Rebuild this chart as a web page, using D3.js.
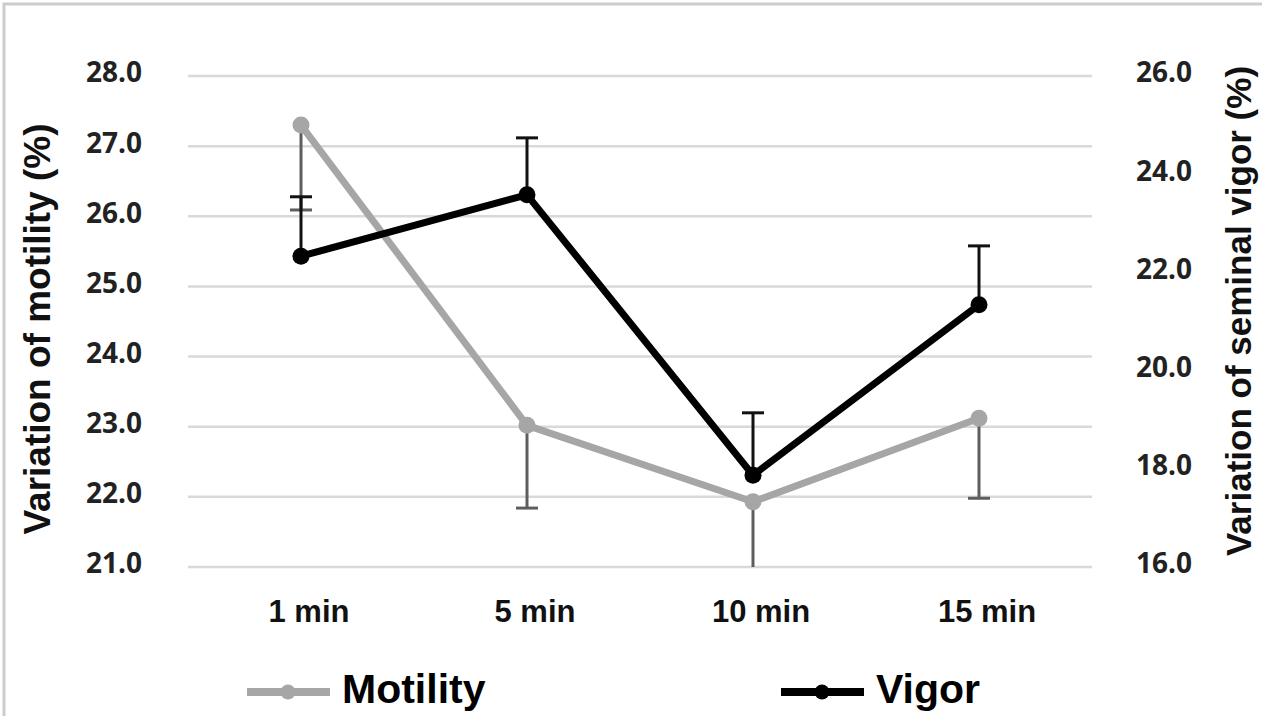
<!DOCTYPE html>
<html>
<head>
<meta charset="utf-8">
<script src="https://d3js.org/d3.v7.min.js"></script>
<style>
  body { margin: 0; background: #fff; }
  svg { display: block; }
</style>
</head>
<body>
<svg id="chart"></svg>
<script>
// data
var times = ["1 min", "5 min", "10 min", "15 min"];
var motility = [27.3, 23.02, 21.93, 23.12];
var motilityLow = [26.09, 21.84, 20.7, 21.98];   // minus error bar ends
var vigor = [22.33, 23.58, 17.87, 21.34];
var vigorHigh = [23.54, 24.74, 19.14, 22.54];    // plus error bar ends
var leftTicks = [21, 22, 23, 24, 25, 26, 27, 28];
var rightTicks = [16, 18, 20, 22, 24, 26];

var W = 1262, H = 716;
var margins = {top: 76, right: 170, bottom: 149, left: 188};
var width = W - margins.left - margins.right;
var height = H - margins.top - margins.bottom;

var svg = d3.select("#chart").attr("width", W).attr("height", H);

// outer chart border (only top/left visible in the crop)
svg.append("path")
  .attr("d", "M4," + H + " V4 H" + W)
  .attr("fill", "none")
  .attr("stroke", "#cccccc")
  .attr("stroke-width", 3);

var g = svg.append("g")
  .attr("transform", "translate(" + margins.left + "," + margins.top + ")");

var xScale = d3.scaleBand().domain(times).range([0, width]);
var yLeft = d3.scaleLinear().domain([21, 28]).range([height, 0]);
var yRight = d3.scaleLinear().domain([16, 26]).range([height, 0]);
var cx = function(d, i){ return xScale(times[i]) + xScale.bandwidth() / 2; };

// gridlines
g.selectAll(".grid").data(leftTicks).enter().append("line")
  .attr("x1", 0).attr("x2", width)
  .attr("y1", function(d){ return yLeft(d); })
  .attr("y2", function(d){ return yLeft(d); })
  .attr("stroke", "#d9d9d9").attr("stroke-width", 2.5);

var tickFont = "'Open Sans', sans-serif";
var arial = "'Liberation Sans', Arial, sans-serif";

var yAxisL = d3.axisLeft(yLeft).tickValues(leftTicks).tickSize(0).tickPadding(46)
  .tickFormat(d3.format(".1f"));
g.append("g").classed("yAxis", true).call(yAxisL)
  .call(function(s){ s.select(".domain").remove(); })
  .selectAll("text")
  .attr("y", -3)
  .attr("font-family", tickFont).attr("font-weight", "bold")
  .attr("font-size", 28).attr("fill", "#222");

var yAxisR = d3.axisRight(yRight).tickValues(rightTicks).tickSize(0).tickPadding(44)
  .tickFormat(d3.format(".1f"));
g.append("g").classed("yAxis", true)
  .attr("transform", "translate(" + width + ",0)")
  .call(yAxisR)
  .call(function(s){ s.select(".domain").remove(); })
  .selectAll("text")
  .attr("y", -3)
  .attr("font-family", tickFont).attr("font-weight", "bold")
  .attr("font-size", 28).attr("fill", "#222");

var xAxis = d3.axisBottom(xScale).tickSize(0).tickPadding(33);
g.append("g").classed("xAxis", true)
  .attr("transform", "translate(0," + height + ")")
  .call(xAxis)
  .call(function(s){ s.select(".domain").remove(); })
  .selectAll("text")
  .attr("dx", 8)
  .attr("font-family", arial).attr("font-weight", "bold")
  .attr("font-size", 31).attr("fill", "#111");

// axis titles
svg.append("text")
  .attr("transform", "translate(50,329) rotate(-90)")
  .attr("text-anchor", "middle")
  .attr("font-family", arial).attr("font-weight", "bold")
  .attr("font-size", 37).attr("fill", "#111")
  .text("Variation of motility (%)");

svg.append("text")
  .attr("transform", "translate(1251,311) rotate(-90)")
  .attr("text-anchor", "middle")
  .attr("font-family", arial).attr("font-weight", "bold")
  .attr("font-size", 35).attr("fill", "#111")
  .text("Variation of seminal vigor (%)");

// clip so error bars do not run past the plot
g.append("clipPath").attr("id", "plotclip")
  .append("rect").attr("x", -20).attr("y", -20).attr("width", width + 40).attr("height", height + 20);
var plot = g.append("g").attr("clip-path", "url(#plotclip)");

var capW = 11;
function errorBars(vals, ends, scale, color){
  var eb = plot.append("g");
  eb.selectAll("line.v").data(vals).enter().append("line")
    .attr("x1", cx).attr("x2", cx)
    .attr("y1", function(d){ return scale(d); })
    .attr("y2", function(d, i){ return scale(ends[i]); })
    .attr("stroke", color).attr("stroke-width", 3);
  eb.selectAll("line.c").data(ends).enter().append("line")
    .attr("x1", function(d, i){ return cx(d, i) - capW; })
    .attr("x2", function(d, i){ return cx(d, i) + capW; })
    .attr("y1", function(d){ return scale(d); })
    .attr("y2", function(d){ return scale(d); })
    .attr("stroke", color).attr("stroke-width", 3);
}

function series(vals, scale, color){
  var line = d3.line().x(cx).y(function(d){ return scale(d); });
  plot.append("path").datum(vals)
    .attr("d", line)
    .attr("fill", "none")
    .attr("stroke", color).attr("stroke-width", 7)
    .attr("stroke-linejoin", "round");
  plot.selectAll(null).data(vals).enter().append("circle")
    .attr("cx", cx)
    .attr("cy", function(d){ return scale(d); })
    .attr("r", 8.5)
    .attr("fill", color);
}

errorBars(motility, motilityLow, yLeft, "#5e5e5e");
series(motility, yLeft, "#a6a6a6");
errorBars(vigor, vigorHigh, yRight, "#111");
series(vigor, yRight, "#000");

// legend
var legend = [
  {name: "Motility", color: "#a6a6a6", x: 247},
  {name: "Vigor", color: "#000", x: 781}
];
var lg = svg.selectAll(".legend").data(legend).enter().append("g")
  .attr("transform", function(d){ return "translate(" + d.x + ",692)"; });
lg.append("line")
  .attr("x1", 0).attr("x2", 83).attr("y1", 0).attr("y2", 0)
  .attr("stroke", function(d){ return d.color; })
  .attr("stroke-width", 8);
lg.append("circle")
  .attr("cx", 41).attr("cy", 0).attr("r", 7.5)
  .attr("fill", function(d){ return d.color; });
lg.append("text")
  .attr("x", 95).attr("y", 11)
  .attr("font-family", arial)
  .attr("font-weight", "bold").attr("font-size", 41)
  .attr("fill", "#000")
  .text(function(d){ return d.name; });
</script>
</body>
</html>
